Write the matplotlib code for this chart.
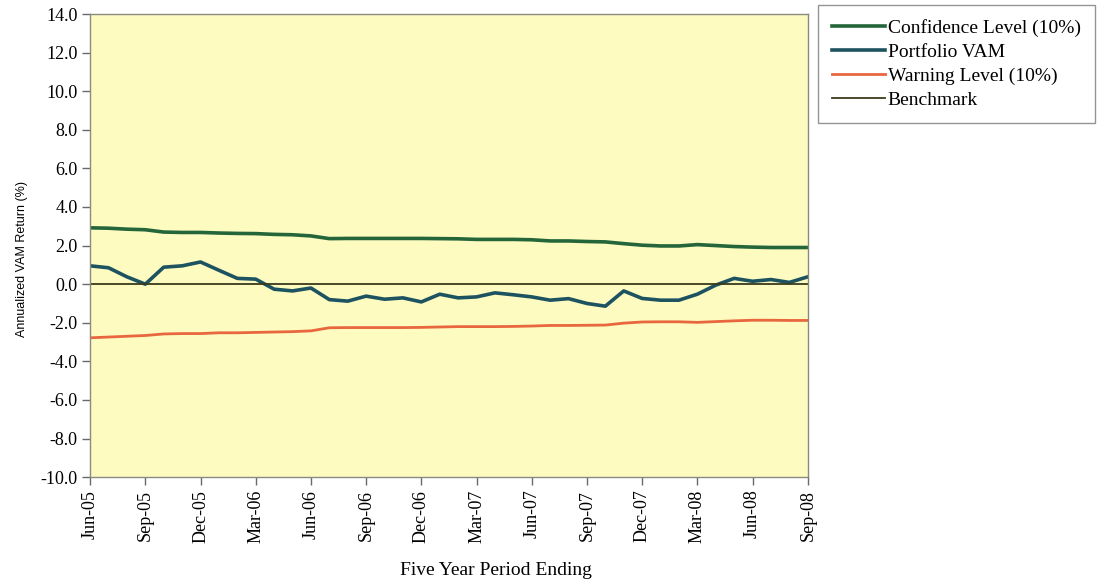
import matplotlib
matplotlib.use("Agg")
import matplotlib.pyplot as plt
import numpy as np

months = ["Jun-05", "Jul-05", "Aug-05", "Sep-05", "Oct-05", "Nov-05", "Dec-05", "Jan-06", "Feb-06", "Mar-06",
          "Apr-06", "May-06", "Jun-06", "Jul-06", "Aug-06", "Sep-06", "Oct-06", "Nov-06", "Dec-06", "Jan-07",
          "Feb-07", "Mar-07", "Apr-07", "May-07", "Jun-07", "Jul-07", "Aug-07", "Sep-07", "Oct-07", "Nov-07",
          "Dec-07", "Jan-08", "Feb-08", "Mar-08", "Apr-08", "May-08", "Jun-08", "Jul-08", "Aug-08", "Sep-08"]

confidence = [2.92, 2.90, 2.85, 2.82, 2.70, 2.68, 2.68, 2.65, 2.63, 2.62,
              2.58, 2.56, 2.50, 2.36, 2.37, 2.37, 2.37, 2.37, 2.37, 2.36,
              2.35, 2.32, 2.32, 2.32, 2.30, 2.24, 2.24, 2.21, 2.19, 2.10,
              2.02, 1.98, 1.98, 2.05, 2.00, 1.95, 1.92, 1.90, 1.90, 1.90]

portfolio = [0.95, 0.85, 0.38, 0.00, 0.88, 0.95, 1.15, 0.72, 0.30, 0.26,
             -0.26, -0.35, -0.20, -0.80, -0.88, -0.62, -0.78, -0.71, -0.92, -0.52,
             -0.71, -0.66, -0.45, -0.55, -0.66, -0.83, -0.75, -1.00, -1.14, -0.35,
             -0.74, -0.83, -0.83, -0.52, -0.05, 0.30, 0.15, 0.24, 0.09, 0.38]

warning = [-2.78, -2.74, -2.70, -2.66, -2.58, -2.56, -2.56, -2.52, -2.52, -2.50,
           -2.48, -2.46, -2.42, -2.26, -2.25, -2.25, -2.25, -2.25, -2.24, -2.22,
           -2.20, -2.20, -2.20, -2.19, -2.17, -2.14, -2.14, -2.13, -2.12, -2.02,
           -1.96, -1.95, -1.95, -1.98, -1.94, -1.90, -1.87, -1.87, -1.88, -1.88]

benchmark = [0.0] * len(months)

tick_labels = months[::3]

plt.rcParams['font.family'] = ['Liberation Serif', 'DejaVu Serif']

fig = plt.figure(figsize=(10.99, 5.84), dpi=100)
ax = fig.add_axes([0.082, 0.183, 0.653, 0.793])
ax.set_facecolor('#FDFBBF')

x = np.arange(len(months))
ax.plot(x, confidence, color='#24663A', lw=2.6, label='Confidence Level (10%)', solid_joinstyle='round')
ax.plot(x, portfolio, color='#1D5360', lw=2.6, label='Portfolio VAM', solid_joinstyle='round')
ax.plot(x, warning, color='#E8673E', lw=2.0, label='Warning Level (10%)')
ax.plot(x, benchmark, color='#3A3A1A', lw=1.3, label='Benchmark')

ax.set_xlim(0, len(months) - 1)
ax.set_ylim(-10, 14)
yt = np.arange(-10, 14.1, 2)
ax.set_yticks(yt)
ax.set_yticklabels([f"{v:.1f}" for v in yt], fontsize=13)
ax.set_xticks(x[::3])
ax.set_xticklabels(tick_labels, rotation=90, fontsize=13)

for s in ax.spines.values():
    s.set_color('#8A8A80')
    s.set_linewidth(1.0)
ax.tick_params(direction='out', length=6, color='#6A6A6A', width=1.0, pad=3)

ax.set_ylabel('Annualized VAM Return (%)', fontsize=9, family='Liberation Sans')
ax.yaxis.set_label_coords(-0.087, 0.47)
ax.set_xlabel('Five Year Period Ending', fontsize=14)
ax.xaxis.set_label_coords(0.565, -0.183)

leg = fig.legend(loc='upper left', bbox_to_anchor=(0.744, 0.992), fontsize=14,
                 frameon=True, fancybox=False, handlelength=2.7, handletextpad=0.15,
                 labelspacing=0.32, borderpad=0.75, borderaxespad=0)
leg.get_frame().set_edgecolor('#7A7A7A')
leg.get_frame().set_linewidth(1.0)

fig.savefig('out.png', dpi=100)
